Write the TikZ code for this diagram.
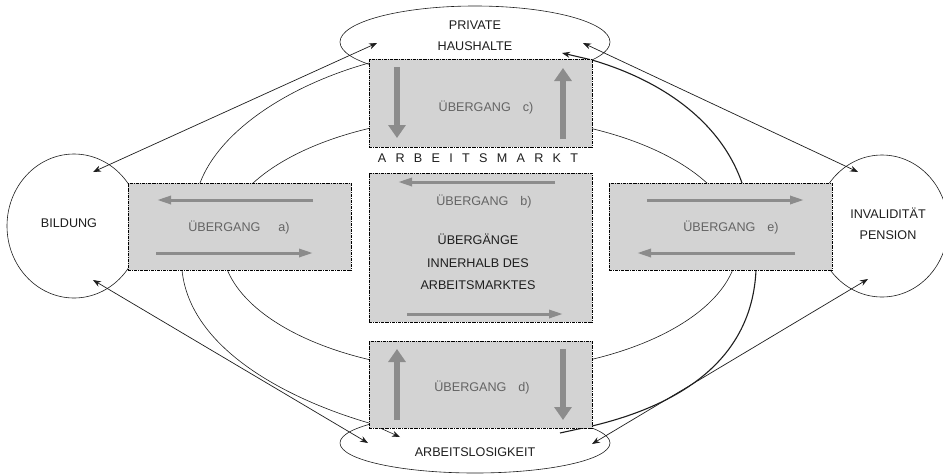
\documentclass[tikz,border=0pt]{standalone}
\usepackage{fontspec}
\setmainfont{Liberation Sans}
\usetikzlibrary{arrows.meta,shapes.geometric}
\definecolor{boxgray}{HTML}{D3D3D3}
\definecolor{arrgray}{HTML}{8C8C8C}
\definecolor{txtgray}{HTML}{646464}
\definecolor{ink}{HTML}{1E1E1E}
\newcommand{\gp}{\hspace{9.3pt}}
\begin{document}
\begin{tikzpicture}[x=1pt,y=-1pt,
  lbl/.style={font=\fontsize{12.6}{21}\selectfont, text=ink, inner sep=0pt, align=center},
  glbl/.style={font=\fontsize{12.6}{14}\selectfont, text=txtgray, inner sep=0pt},
  circ/.style={draw=ink, line width=0.6pt, ellipse, inner sep=0pt},
  flowbox/.style={draw=black, fill=boxgray, line width=0.6pt, dash pattern=on 3pt off 1pt on 0.8pt off 1pt, inner sep=0pt, minimum width=223pt},
  thinline/.style={draw=ink, line width=0.6pt},
  boldline/.style={draw=ink, line width=1.1pt},
  dbl/.style={draw=ink, line width=0.7pt, {Stealth[length=8pt,width=6pt]}-{Stealth[length=8pt,width=6pt]}},
  harr/.style={draw=arrgray, line width=3pt, -{Triangle[length=14pt,width=8pt]}},
  varr/.style={draw=arrgray, line width=6pt, -{Triangle[length=13pt,width=17pt]}},
]
\useasboundingbox[fill=white] (0,0) rectangle (943,475);

% circles and ellipses
\node[circ, minimum width=134pt, minimum height=144pt] (bild) at (74,226) {};
\node[circ, minimum width=132pt, minimum height=142pt] (inv) at (882,226) {};
\node[circ, minimum width=270pt, minimum height=72pt] (ph) at (475,42) {};
\node[circ, minimum width=270pt, minimum height=60pt] (al) at (475,443) {};

% inner ellipse of flows
\draw[thinline] (480,244) ellipse [x radius=258, y radius=128];

% outer left flow curve
\coordinate (l0) at (380,60);
\coordinate (l1) at (369,63);
\coordinate (l2) at (200,183);
\coordinate (l3) at (182,270);
\coordinate (l4) at (369,423);
\coordinate (l5) at (400,437);
\draw[thinline, -{Stealth[length=8pt,width=6pt]}] (l0) -- (l1) .. controls (290,85) and (220,130) .. (l2) -- (l3) .. controls (190,350) and (290,400) .. (l4) -- (l5);

% outer right flow curve
\coordinate (r0) at (560,433);
\coordinate (r1) at (592,426);
\coordinate (r2) at (756,270);
\coordinate (r3) at (742,183);
\coordinate (r4) at (592,60);
\coordinate (r5) at (562,53);
\draw[boldline, -{Stealth[length=8pt,width=6pt]}] (r0) -- (r1) .. controls (680,405) and (752,360) .. (r2) -- (r3) .. controls (720,120) and (660,80) .. (r4) -- (r5);

% boxes
\node[flowbox, minimum height=87pt] (ba) at (239.5,226.5) {};
\node[flowbox, minimum height=88pt] (bc) at (480.5,103) {};
\node[flowbox, minimum height=149pt] (bb) at (480.5,247.5) {};
\node[flowbox, minimum height=87pt] (bd) at (480.5,384.5) {};
\node[flowbox, minimum height=87pt] (be) at (720.5,226.5) {};

% labels
\node[lbl] (bildT) at (69,223) {BILDUNG};
\node[lbl] (invT) at (888,223.5) {INVALIDITÄT\\PENSION};
\node[lbl] (phT) at (475,35.5) {PRIVATE\\HAUSHALTE};
\node[lbl] (alT) at (475,452) {ARBEITSLOSIGKEIT};
\node[lbl] (amT) at (478,158) {A\gp R\gp B\gp E\gp I\gp T\gp S\gp M\gp A\gp R\gp K\gp T};
\node[glbl] (aT) at (239,228) {ÜBERGANG\hspace{18pt}a)};
\node[glbl] (bT) at (484,202) {ÜBERGANG\hspace{12pt}b)};
\node[glbl] (cT) at (486,108) {ÜBERGANG\hspace{12pt}c)};
\node[glbl] (dT) at (482,388) {ÜBERGANG\hspace{12pt}d)};
\node[glbl] (eT) at (731,228) {ÜBERGANG\hspace{12pt}e)};
\node[lbl, font=\fontsize{12.6}{22.5}\selectfont] (inT) at (478,262) {ÜBERGÄNGE\\INNERHALB DES\\ARBEITSMARKTES};

% long double arrows
\coordinate (d1a) at (93,172);  \coordinate (d1b) at (377,43);
\coordinate (d2a) at (583,43);  \coordinate (d2b) at (858,172);
\coordinate (d3a) at (93,280);  \coordinate (d3b) at (368,443);
\coordinate (d4a) at (868,279); \coordinate (d4b) at (592,444);
\draw[dbl] (d1a) -- (d1b);
\draw[dbl] (d2a) -- (d2b);
\draw[dbl] (d3a) -- (d3b);
\draw[dbl] (d4a) -- (d4b);

% gray arrows in boxes
\coordinate (ga1) at (313,200); \coordinate (ga2) at (157,200);
\coordinate (ga3) at (156,253); \coordinate (ga4) at (313,253);
\draw[harr] (ga1) -- (ga2);
\draw[harr] (ga3) -- (ga4);
\coordinate (ge1) at (647,200); \coordinate (ge2) at (804,200);
\coordinate (ge3) at (795,253); \coordinate (ge4) at (637,253);
\draw[harr] (ge1) -- (ge2);
\draw[harr] (ge3) -- (ge4);
\coordinate (gb1) at (555,182); \coordinate (gb2) at (398,182);
\coordinate (gb3) at (407,314); \coordinate (gb4) at (563,314);
\draw[harr] (gb1) -- (gb2);
\draw[harr] (gb3) -- (gb4);
\coordinate (gc1) at (397,67);  \coordinate (gc2) at (397,138);
\coordinate (gc3) at (563,139); \coordinate (gc4) at (563,68);
\draw[varr] (gc1) -- (gc2);
\draw[varr] (gc3) -- (gc4);
\coordinate (gd1) at (397,420); \coordinate (gd2) at (397,349);
\coordinate (gd3) at (563,349); \coordinate (gd4) at (563,420);
\draw[varr] (gd1) -- (gd2);
\draw[varr] (gd3) -- (gd4);
\end{tikzpicture}
\end{document}
